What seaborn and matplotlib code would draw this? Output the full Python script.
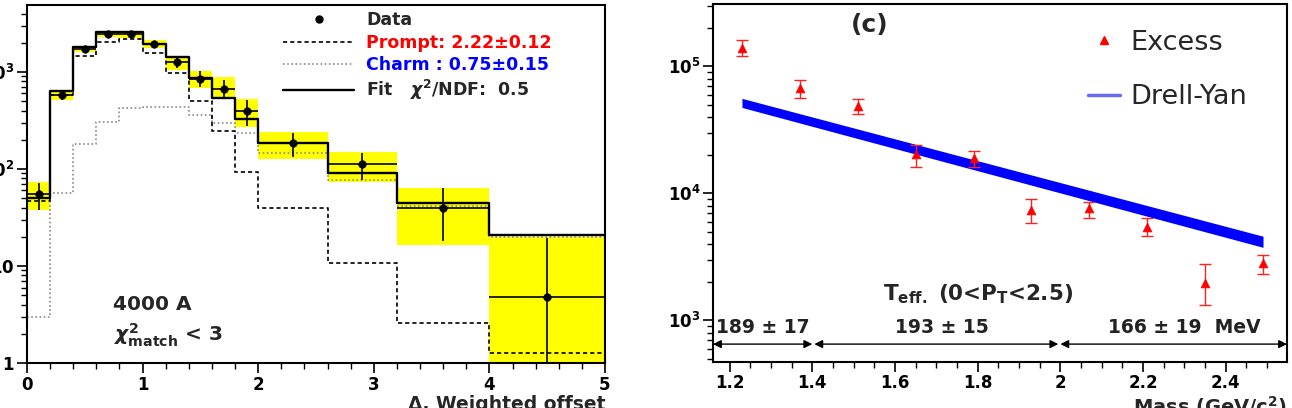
import numpy as np
import matplotlib
matplotlib.use('Agg')
import matplotlib.pyplot as plt
import seaborn as sns
from matplotlib.lines import Line2D
from matplotlib.ticker import MultipleLocator, NullFormatter, LogLocator
import matplotlib.transforms as mtransforms

# ---- left panel: weighted offset histogram ----
edges = [0, 0.2, 0.4, 0.6, 0.8, 1.0, 1.2, 1.4, 1.6, 1.8, 2.0, 2.6, 3.2, 4.0, 5.0]
data_y = [55, 580, 1725, 2460, 2450, 1950, 1260, 850, 665, 395, 185, 112, 40, 4.8]
data_lo = [38, 520, 1620, 2330, 2300, 1820, 1100, 700, 540, 280, 133, 77, 18, 1.0]
data_hi = [72, 650, 1840, 2600, 2600, 2090, 1440, 1030, 830, 520, 235, 146, 63, 19.5]
fit_y = [50, 630, 1800, 2600, 2600, 1950, 1430, 860, 540, 330, 185, 91, 45, 21]
prompt_y = [47, 575, 1460, 2040, 2180, 1570, 980, 500, 245, 93, 40, 10.7, 2.6, 1.27]
charm_y = [3, 56, 180, 305, 425, 435, 435, 360, 300, 235, 146, 77, 42, 20]
sys_lo = [38, 510, 1600, 2300, 2250, 1780, 1050, 680, 530, 270, 127, 73, 16.5, 1.0]
sys_hi = [73, 650, 1830, 2650, 2650, 2130, 1430, 1030, 880, 530, 240, 150, 63, 20]

# ---- right panel: excess vs mass ----
mass = [1.23, 1.37, 1.51, 1.65, 1.79, 1.93, 2.07, 2.21, 2.35, 2.49]
excess = [1.39e5, 6.7e4, 4.85e4, 2.03e4, 1.89e4, 7350, 7700, 5400, 1960, 2810]
excess_lo = [1.2e5, 5.6e4, 4.2e4, 1.6e4, 1.6e4, 5800, 6450, 4600, 1310, 2330]
excess_hi = [1.6e5, 7.8e4, 5.5e4, 2.4e4, 2.15e4, 9100, 8600, 6350, 2800, 3300]
dy_mass = [1.23, 2.49]
dy_lo = [4.75e4, 3760]
dy_hi = [5.6e4, 4600]
teff_ranges = [(1.16, 1.40), (1.405, 1.995), (2.0, 2.548)]
teff_labels = ['189 \u00b1 17', '193 \u00b1 15', '166 \u00b1 19  MeV']

sns.set_style('ticks')
plt.rcParams['font.family'] = ['DejaVu Sans']
plt.rcParams['font.weight'] = 'bold'
plt.rcParams['mathtext.fontset'] = 'custom'
plt.rcParams['mathtext.rm'] = 'DejaVu Sans:bold'
plt.rcParams['mathtext.bf'] = 'DejaVu Sans:bold'
plt.rcParams['mathtext.it'] = 'DejaVu Sans:bold:italic'
plt.rcParams['mathtext.sf'] = 'DejaVu Sans:bold'
plt.rcParams['axes.edgecolor'] = 'black'
plt.rcParams['axes.linewidth'] = 1.5
plt.rcParams['xtick.color'] = 'black'
plt.rcParams['ytick.color'] = 'black'

fig = plt.figure(figsize=(12.92, 4.08), dpi=100)
ax1 = fig.add_axes([27 / 1292, 45 / 408, 578 / 1292, 358 / 408])
ax2 = fig.add_axes([713 / 1292, 46 / 408, 574 / 1292, 358 / 408])

# left panel
edges_a = np.array(edges)
centers = (edges_a[:-1] + edges_a[1:]) / 2
halfw = (edges_a[1:] - edges_a[:-1]) / 2

ax1.fill_between(edges, sys_lo + [sys_lo[-1]], sys_hi + [sys_hi[-1]],
                 step='post', color='#ffff00', lw=0, zorder=1)
sns.lineplot(x=edges, y=charm_y + [charm_y[-1]], drawstyle='steps-post', estimator=None,
             color='#8a8a8a', lw=1.2, ls=(0, (1, 1.5)), ax=ax1, zorder=2)
sns.lineplot(x=edges, y=prompt_y + [prompt_y[-1]], drawstyle='steps-post', estimator=None,
             color='black', lw=1.2, ls=(0, (2.5, 1.8)), ax=ax1, zorder=2)
sns.lineplot(x=edges, y=fit_y + [fit_y[-1]], drawstyle='steps-post', estimator=None,
             color='black', lw=1.7, ax=ax1, zorder=3)
d = np.array(data_y)
ax1.errorbar(centers, data_y, xerr=halfw,
             yerr=[d - np.array(data_lo), np.array(data_hi) - d],
             fmt='none', ecolor='black', elinewidth=1.2, capsize=0, zorder=4)
sns.scatterplot(x=centers, y=data_y, color='black', s=30, edgecolor='black', ax=ax1, zorder=5)

ax1.set_yscale('log')
ax1.set_xlim(0, 5)
ax1.set_ylim(1, 4900)
ax1.set_yticks([1, 10, 100, 1000],
               [r'$\mathbf{1}$', r'$\mathbf{10}$', r'$\mathbf{10^{2}}$', r'$\mathbf{10^{3}}$'])
ax1.yaxis.set_minor_locator(LogLocator(base=10, subs=np.arange(2, 10)))
ax1.yaxis.set_minor_formatter(NullFormatter())
ax1.xaxis.set_major_locator(MultipleLocator(1))
ax1.xaxis.set_minor_locator(MultipleLocator(0.2))
ax1.set_xlabel('\u0394, Weighted offset', loc='right', fontsize=13.5, fontweight='bold', labelpad=1)
ax1.set_ylabel('')

handles = [Line2D([], [], marker='o', color='black', ls='none', ms=5),
           Line2D([], [], color='black', lw=1.2, ls=(0, (2.5, 1.8))),
           Line2D([], [], color='#8a8a8a', lw=1.2, ls=(0, (1, 1.5))),
           Line2D([], [], color='black', lw=1.7)]
labels = ['Data', 'Prompt: 2.22\u00b10.12', 'Charm : 0.75\u00b10.15',
          r'Fit   $\chi^{2}$/NDF:  0.5']
leg = ax1.legend(handles, labels, loc='upper left', bbox_to_anchor=(0.443, 0.982),
                 frameon=False, prop={'weight': 'bold', 'size': 12.5}, handlelength=4.1,
                 handletextpad=0.7, labelspacing=0.24, borderpad=0, borderaxespad=0)
leg.get_texts()[1].set_color('#ff0000')
leg.get_texts()[2].set_color('#0000ff')

ax1.text(0.149, 0.163, '4000 A', transform=ax1.transAxes, fontsize=14.5,
         fontweight='bold', va='center', ha='left')
ax1.text(0.151, 0.078, r'$\chi^{2}_{\mathrm{match}}$ < 3', transform=ax1.transAxes,
         fontsize=14.5, fontweight='bold', va='center', ha='left')

# right panel
ax2.fill_between(dy_mass, dy_lo, dy_hi, color='#0000ff', lw=0, zorder=2)
e = np.array(excess)
ax2.errorbar(mass, excess, yerr=[e - np.array(excess_lo), np.array(excess_hi) - e],
             fmt='none', ecolor='#ff2020', elinewidth=1.0, capsize=4, capthick=1.0, zorder=3)
sns.scatterplot(x=mass, y=excess, marker='^', color='#ff0000', s=40,
                edgecolor='#ff0000', ax=ax2, zorder=4)

ax2.set_yscale('log')
ax2.set_xlim(1.16, 2.548)
ax2.set_ylim(470, 3.1e5)
ax2.set_yticks([1e3, 1e4, 1e5],
               [r'$\mathbf{10^{3}}$', r'$\mathbf{10^{4}}$', r'$\mathbf{10^{5}}$'])
ax2.yaxis.set_minor_locator(LogLocator(base=10, subs=np.arange(2, 10)))
ax2.yaxis.set_minor_formatter(NullFormatter())
ax2.set_xticks([1.2, 1.4, 1.6, 1.8, 2.0, 2.2, 2.4], ['1.2', '1.4', '1.6', '1.8', '2', '2.2', '2.4'])
ax2.xaxis.set_minor_locator(MultipleLocator(0.05))
ax2.set_xlabel(r'Mass (GeV/c$^{2}$)', loc='right', fontsize=14, fontweight='bold', labelpad=1)
ax2.set_ylabel('')

handles2 = [Line2D([], [], marker='^', color='#ff0000', ls='none', ms=6),
            Line2D([], [], color='#6b6bf5', lw=2.5)]
leg2 = ax2.legend(handles2, ['Excess', 'Drell-Yan'], loc='upper left',
                  bbox_to_anchor=(0.653, 0.928), frameon=False,
                  prop={'weight': 'normal', 'size': 19.5}, handlelength=1.2,
                  handletextpad=0.38, labelspacing=1.05, borderpad=0, borderaxespad=0)

ax2.text(0.2735, 0.94, '(c)', transform=ax2.transAxes, fontsize=18,
         fontweight='bold', ha='center', va='center')
ax2.text(0.296, 0.19, r'T$_{\mathrm{eff.}}$ (0<P$_{\mathrm{T}}$<2.5)', transform=ax2.transAxes,
         fontsize=15.5, fontweight='bold', ha='left', va='center')

blend = mtransforms.blended_transform_factory(ax2.transData, ax2.transAxes)
for (x0, x1), lab in zip(teff_ranges, teff_labels):
    ax2.annotate('', xy=(x1, 0.05), xytext=(x0, 0.05), xycoords=blend, textcoords=blend,
                 arrowprops=dict(arrowstyle='<|-|>', color='black', lw=1.0,
                                 mutation_scale=12, shrinkA=0, shrinkB=0))
label_x = [1.167, 1.6, 2.115]
for lx, lab in zip(label_x, teff_labels):
    ax2.text(lx, 0.095, lab, transform=blend, fontsize=13.5, fontweight='bold',
             color='#222222', ha='left', va='center')

for ax in (ax1, ax2):
    ax.tick_params(which='major', direction='out', length=7, width=1.2, labelsize=12, pad=2,
                   top=False, right=False)
    ax.tick_params(which='minor', direction='out', length=4, width=1.0, top=False, right=False)
    for s in ax.spines.values():
        s.set_visible(True)
        s.set_color('black')
        s.set_linewidth(1.5)

fig.savefig('out.png', dpi=100)
